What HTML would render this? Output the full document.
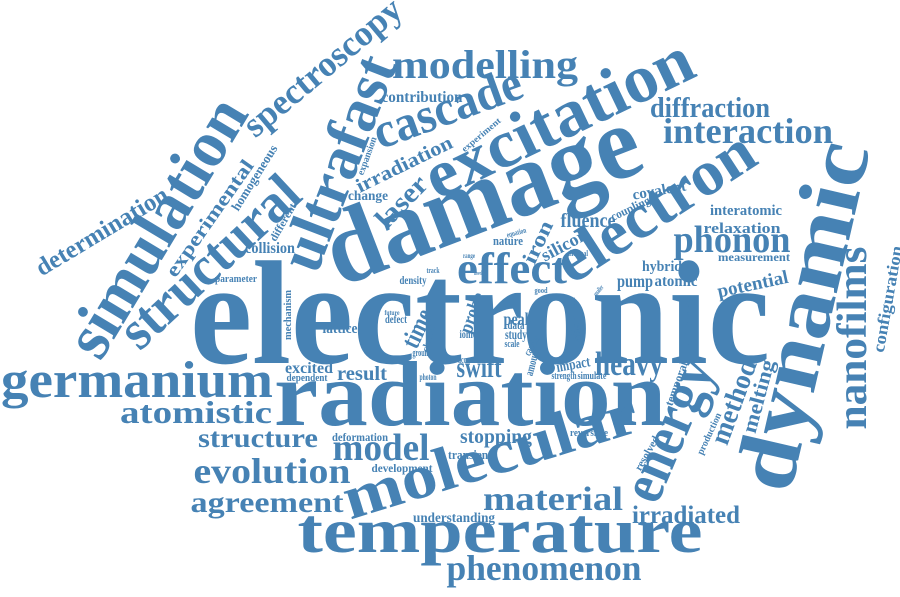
<!DOCTYPE html>
<html><head><meta charset="utf-8"><style>
html,body{margin:0;padding:0;background:#fff;}
svg{display:block;}
text{font-family:"Liberation Serif",serif;font-weight:bold;fill:#4682b4;}
</style></head><body>
<svg id="cloud" width="900" height="597" viewBox="0 0 900 597"></svg>
<script>
const words = ["electronic","damage","radiation","temperature","molecular","dynamic","excitation","ultrafast","simulation","structural","germanium","atomistic","structure","evolution","agreement","model","modelling","cascade","spectroscopy","determination","experimental","diffraction","interaction","electron","phonon","nanofilms","energy","heavy","material","irradiated","phenomenon","effect","swift","contribution","irradiation","laser","change","homogeneous","different","collision","parameter","expansion","experiment","covalent","coupling","interatomic","relaxation","measurement","hybrid","pump","atomic","potential","configuration","method","melting","approach","temporal","stopping","transient","reversible","resolved","production","deformation","development","understanding","peak","response","impact","fluence","silicon","iron","nature","density","time","probe","cluster","defect","ionic","data","study","scale","account","amount","carrier","strength","simulate","photon","ground","mechanism","track","thermal","good","result","lattice","excited","dependent","future","range","equation","primary","smaller","novel"];
const sizes = [148,105,92,64,62,86,68,62,66,56,52,32,27,36,30,38,40,50,36,25,20,28,36,64,38,42,60,34,34,25,36,44,30,16,20,28,14,13,11,16,10,10,9,15,12,15,15,12,15,18,16,19,17,28,21,13,12,20,13,11,11,10,12,12,14,18,16,15,20,18,21,13,12,26,20,10,12,12,13,14,10,10,12,11,10,10,9,10,11,8,8,8,20,15,16,11,7,7,8,8,7,6];
const layout = [
[480,363,0,580],[494,228,-21,330],[470,425,0,392],[500,552,0,405],[496,475,-17,305],[830,322,-77,355],[568,138,-25.6,290],[357,170,-69,225],[175,238,-59,290],[222,275,-43,225],
[137,397,0,272],[196,423,0,152],[258,447,0,120],[272,483,0,157],[267,512,0,153],[381,460,0,97],[485,78,0,186],[453,123,-20,155],[330,76,-40,195],[106,238,-31,150],
[215,222,-55,138],[710,117,0,120],[748,143,0,170],[666,224,-33,225],[732,252,0,117],[866,338,-90,183],[686,437,-67,150],[629,375,0,68],[553,510,0,140],[686,523,0,108],
[544,580,0,195],[512,283,0,110],[479,377,0,45],[422,102,0,81],[407,170,-26,105],[408,208,-46,62],[368,200,0,40],[258,180,-58,75],[286,224,-60,42],[270,253,0,50],
[236,282,0,42],[370,157,-70,40],[483,137,-40,48],[660,195,-10,54],[632,212,-25,42],[746,215,0,72],[742,233,0,77],[754,261,0,72],[662,271,0,40],[635,287,0,36],
[676,286,0,43],[754,290,-12,72],[893,300,-80,108],[742,405,-70,88],[765,398,-75,75],[692,323,-82,50],[680,385,-70,46],[496,443,0,72],[470,459,0,44],[589,436,0,38],
[650,455,-60,38],[712,435,-65,45],[360,441,0,56],[402,472,0,61],[454,522,0,82],[518,325,0,29],[575,322,-90,50],[574,369,-10,34],[588,227,0,55],[567,250,-28,50],
[544,245,-65,45],[508,245,0,30],[413,284,0,27],[425,332,-65,40],[478,315,-70,42],[432,338,-75,30],[396,323,0,22],[468,338,0,17],[516,329,0,17],[516,339,0,22],
[512,347,0,15],[468,363,0,20],[536,363,-75,28],[535,347,-60,22],[564,379,0,25],[592,379,0,29],[428,380,0,17],[422,356,0,19],[291,315,-90,50],[433,273,0,13],
[578,256,0,20],[541,293,0,13],[362,380,0,50],[340,333,0,35],[309,373,0,48],[307,381,0,41],[392,315,0,15],[469,258,0,12],[517,235,-15,20],[580,333,-80,20],
[600,292,-50,12],[478,275,0,8]
];
const svg = document.getElementById('cloud');
const NS = "http://www.w3.org/2000/svg";
for (let i = 0; i < words.length; i++) {
  const [bx, by, ang, len] = layout[i];
  const t = document.createElementNS(NS, 'text');
  
  
  t.setAttribute('x', bx);
  t.setAttribute('y', by);
  t.setAttribute('font-size', sizes[i]);
  t.setAttribute('text-anchor', 'middle');
  t.setAttribute('textLength', len);
  t.setAttribute('lengthAdjust', 'spacingAndGlyphs');
  if (ang) t.setAttribute('transform', 'rotate(' + ang + ' ' + bx + ' ' + by + ')');
  t.textContent = words[i];
  svg.appendChild(t);
}
</script>
</body></html>
